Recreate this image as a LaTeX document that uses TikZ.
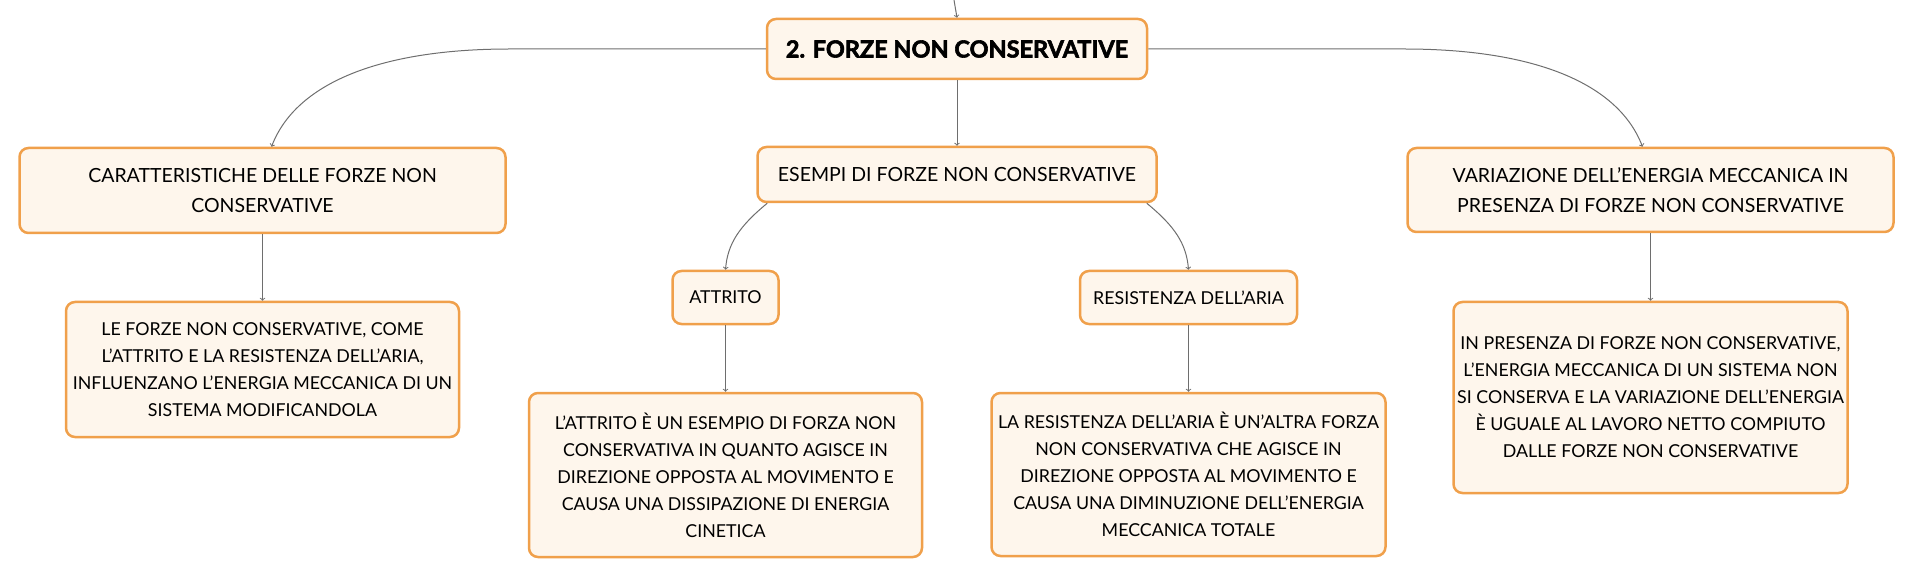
\documentclass[tikz,border=0pt]{standalone}
\usepackage{fontspec}
\setmainfont{Lato}
\newfontfamily\titlefont{Lato}[BoldFeatures={FakeBold=2.5}]
\usepackage{tikz}
\usetikzlibrary{shapes,arrows}
\usetikzlibrary{positioning}
\definecolor{boxline}{HTML}{F0A04B}
\definecolor{boxfill}{HTML}{FEF6EC}
\definecolor{edgegray}{HTML}{6E6E6E}
\tikzstyle{topic} = [rectangle, draw=boxline, fill=boxfill, line width=2.5pt,
    rounded corners=9pt, align=center, inner sep=0pt,
    font=\fontsize{19.5}{30}\selectfont]
\tikzstyle{detail} = [topic, font=\fontsize{17.8}{27}\selectfont]
\tikzstyle{title} = [topic, font=\titlefont\bfseries\fontsize{23.5}{28}\selectfont]
\tikzstyle{edge} = [-to, edgegray, line width=1pt]

\begin{document}
\begin{tikzpicture}[node distance = 2cm, auto]
  \useasboundingbox (0,0) rectangle (1914pt,-577pt);
  % Place nodes
  \node [title, minimum width=380pt, minimum height=60pt] (forze)
  at (957pt,-49pt) {2. FORZE NON CONSERVATIVE};
  \node [topic, below of=forze, node distance=125.5pt,
  minimum width=399pt, minimum height=55pt] (esempi)
  {ESEMPI DI FORZE NON CONSERVATIVE};
  \node [topic, left of=esempi, node distance=694.5pt, yshift=-16pt,
  minimum width=486pt, minimum height=85pt] (caratt)
  {CARATTERISTICHE DELLE FORZE NON\\CONSERVATIVE};
  \node [topic, right of=esempi, node distance=693.5pt, yshift=-15.5pt,
  minimum width=486pt, minimum height=84pt] (variaz)
  {VARIAZIONE DELL'ENERGIA MECCANICA IN\\PRESENZA DI FORZE NON CONSERVATIVE};
  \node [detail, below of=caratt, node distance=179pt,
  minimum width=393pt, minimum height=135pt] (influenza)
  {LE FORZE NON CONSERVATIVE, COME\\L'ATTRITO E LA RESISTENZA DELL'ARIA,\\
  INFLUENZANO L'ENERGIA MECCANICA DI UN\\SISTEMA MODIFICANDOLA};
  \node [detail, below of=variaz, node distance=207.5pt,
  minimum width=394pt, minimum height=191pt] (lavoro)
  {IN PRESENZA DI FORZE NON CONSERVATIVE,\\L'ENERGIA MECCANICA DI UN SISTEMA NON\\
  SI CONSERVA E LA VARIAZIONE DELL'ENERGIA\\È UGUALE AL LAVORO NETTO COMPIUTO\\
  DALLE FORZE NON CONSERVATIVE};
  \node [detail, below of=esempi, node distance=123pt, xshift=-231.5pt,
  minimum width=106pt, minimum height=53pt] (attrito)
  {ATTRITO};
  \node [detail, below of=esempi, node distance=123pt, xshift=231.5pt,
  minimum width=217pt, minimum height=53pt] (resist)
  {RESISTENZA DELL'ARIA};
  \node [detail, below of=attrito, node distance=177.5pt,
  minimum width=393pt, minimum height=164pt] (dissip)
  {L'ATTRITO È UN ESEMPIO DI FORZA NON\\CONSERVATIVA IN QUANTO AGISCE IN\\
  DIREZIONE OPPOSTA AL MOVIMENTO E\\CAUSA UNA DISSIPAZIONE DI ENERGIA\\CINETICA};
  \node [detail, below of=resist, node distance=177pt,
  minimum width=394pt, minimum height=163pt] (diminuz)
  {LA RESISTENZA DELL'ARIA È UN'ALTRA FORZA\\NON CONSERVATIVA CHE AGISCE IN\\
  DIREZIONE OPPOSTA AL MOVIMENTO E\\CAUSA UNA DIMINUZIONE DELL'ENERGIA\\MECCANICA TOTALE};
  \coordinate (sopra) at (954pt,0pt);
  % Draw edges
  \draw [edge] (sopra) -- (forze.north);
  \draw [edge] (forze) -- (esempi);
  \draw [edge] (forze.west) -- ++(-256pt,0pt)
  .. controls +(-131pt,0pt) and +(24pt,63pt) .. ([xshift=9pt]caratt.north);
  \draw [edge] (forze.east) -- ++(256pt,0pt)
  .. controls +(131pt,0pt) and +(-24pt,63pt) .. ([xshift=-8pt]variaz.north);
  \draw [edge] ([xshift=11pt]esempi.south west)
  .. controls +(-28pt,-23pt) and +(2pt,26pt) .. (attrito.north);
  \draw [edge] ([xshift=-11pt]esempi.south east)
  .. controls +(28pt,-23pt) and +(-2pt,26pt) .. (resist.north);
  \draw [edge] (caratt) -- (influenza);
  \draw [edge] (variaz) -- (lavoro);
  \draw [edge] (attrito) -- (dissip);
  \draw [edge] (resist) -- (diminuz);
\end{tikzpicture}
\end{document}
